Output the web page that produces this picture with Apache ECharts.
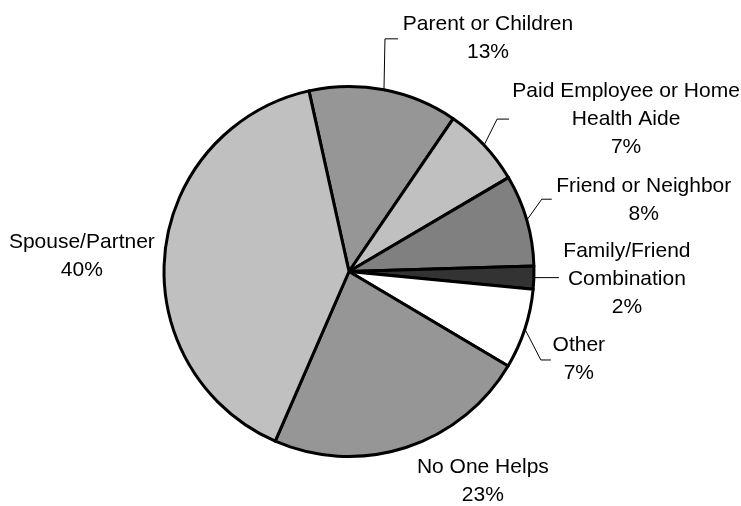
<!DOCTYPE html>
<html>
<head>
<meta charset="utf-8">
<title>Who Helps</title>
<script src="https://cdn.jsdelivr.net/npm/echarts@6/dist/echarts.min.js"></script>
<style>
  html, body { margin: 0; padding: 0; background: #ffffff; }
  #chart { width: 741px; height: 506px; }
</style>
</head>
<body>
<div id="chart"></div>
<script>
// Slice names and their shares (percent)
const categories = [
  'Parent or Children',
  'Paid Employee or Home\nHealth Aide',
  'Friend or Neighbor',
  'Family/Friend\nCombination',
  'Other',
  'No One Helps',
  'Spouse/Partner'
];
const shares = [13, 7, 8, 2, 7, 23, 40];
const sliceColors = ['#969696', '#c0c0c0', '#808080', '#333333', '#ffffff', '#969696', '#c0c0c0'];

// Label placement, relative to the point where each slice's middle meets the rim
const leaderElbow = [[1, -51], [13, -26], [15, -21], [12, 0], [16, 31], null, null];
const leaderEnd   = [[14, -51], [25, -26], [25, -21], [25, 0], [26, 31], null, null];
const textOffset  = [[104, -52], [142, -26], [117, -20], [93, 2], [54, 30], [77, 34], [-83, 2]];

const CX = 349, CY = 271.5, R = 185, START_ANGLE = 102.5;

function rimPoint(i) {
  const total = shares.reduce((a, b) => a + b, 0);
  let before = 0;
  for (let k = 0; k < i; k++) before += shares[k];
  const ang = (-START_ANGLE + (before + shares[i] / 2) / total * 360) * Math.PI / 180;
  return [CX + R * Math.cos(ang), CY + R * Math.sin(ang)];
}

const chart = echarts.init(document.getElementById('chart'), null, { renderer: 'canvas' });

chart.setOption({
  animation: false,
  backgroundColor: '#ffffff',
  series: [{
    type: 'pie',
    center: [CX, CY],
    radius: R,
    startAngle: START_ANGLE,
    clockwise: true,
    avoidLabelOverlap: false,
    emphasis: { disabled: true },
    itemStyle: { borderColor: '#000000', borderWidth: 3 },
    label: {
      show: true,
      position: 'outside',
      formatter: '{b}\n{c}%',
      fontFamily: 'Liberation Sans, Arial, sans-serif',
      fontSize: 21,
      lineHeight: 28,
      color: '#000000',
      width: 260,
      overflow: 'none',
      bleedMargin: 0
    },
    labelLine: {
      show: true,
      length: 5,
      length2: 5,
      smooth: false,
      lineStyle: { color: '#000000', width: 1 }
    },
    labelLayout: function (params) {
      const i = params.dataIndex;
      const p = rimPoint(i);
      const out = {
        x: p[0] + textOffset[i][0],
        y: p[1] + textOffset[i][1],
        align: 'center',
        verticalAlign: 'middle'
      };
      if (leaderElbow[i]) {
        out.labelLinePoints = [
          [p[0], p[1]],
          [p[0] + leaderElbow[i][0], p[1] + leaderElbow[i][1]],
          [p[0] + leaderEnd[i][0], p[1] + leaderEnd[i][1]]
        ];
      }
      return out;
    },
    data: categories.map((name, i) => ({
      name: name,
      value: shares[i],
      itemStyle: { color: sliceColors[i] },
      labelLine: { show: !!leaderElbow[i] }
    }))
  }]
});
</script>
</body>
</html>
